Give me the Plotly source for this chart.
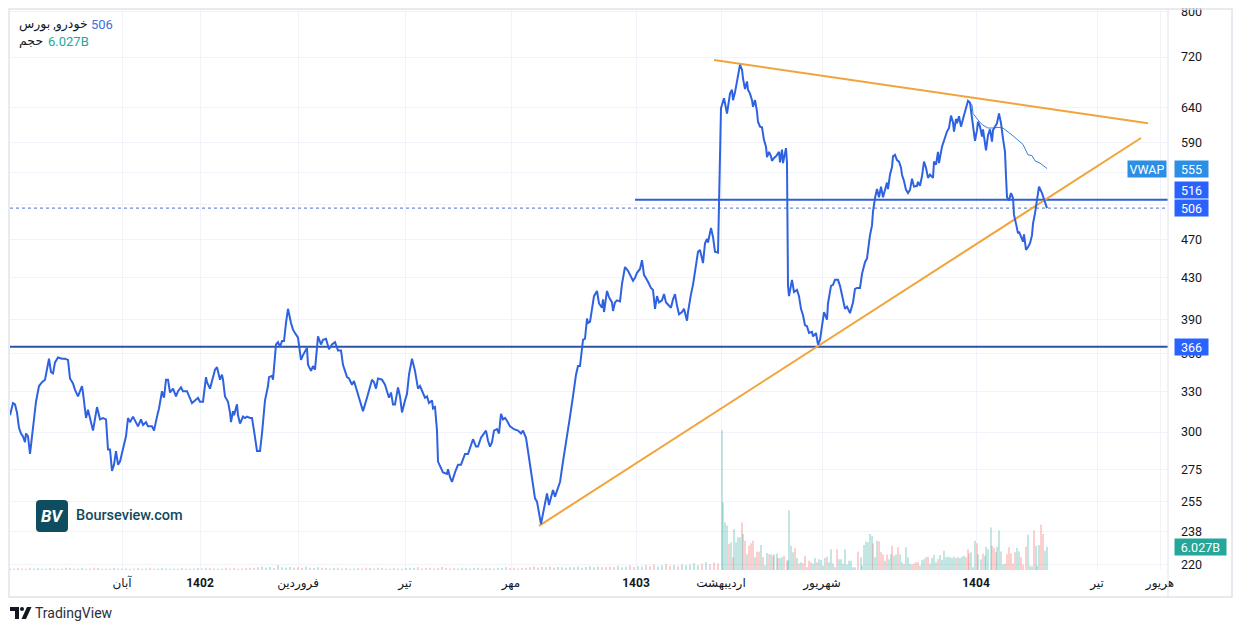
"""
khodro daily chart with trendlines, levels and volume
"""

import bisect
import math

import plotly.graph_objects as go

## sampled daily closes (session number -> price)
bar = [
    0, 3, 5, 7, 9, 11, 13, 15, 16, 18,
    20, 22, 23, 26, 29, 32, 35, 37, 39, 41,
    43, 45, 48, 52, 55, 58, 60, 63, 65, 68,
    72, 73, 76, 78, 80, 83, 87, 90, 93, 96,
    98, 100, 102, 104, 106, 108, 110, 113, 116, 118,
    120, 123, 126, 128, 131, 133, 136, 138, 142, 144,
    147, 149, 152, 154, 156, 158, 160, 163, 166, 168,
    171, 173, 177, 179, 182, 185, 188, 190, 193, 196,
    197, 200, 202, 205, 207, 210, 212, 213, 215, 218,
    220, 221, 223, 224, 227, 228, 230, 233, 235, 237,
    240, 242, 244, 247, 250, 252, 255, 258, 259, 262,
    263, 266, 268, 270, 272, 274, 276, 278, 281, 283,
    285, 288, 291, 293, 297, 298, 301, 303, 305, 308,
    311, 313, 316, 319, 322, 325, 328, 331, 333, 337,
    339, 342, 344, 347, 350, 353, 357, 362, 364, 366,
    368, 372, 375, 379, 381, 383, 385, 388, 390, 392,
    395, 397, 399, 402, 405, 408, 410, 413, 415, 417,
    419, 422, 423, 425, 427, 428, 430, 433, 437, 438,
    440, 442, 445, 448, 451, 453, 455, 458, 461, 463,
    466, 468, 471, 473, 476, 478, 480, 482, 484, 487,
    489, 491, 493, 495, 497, 500, 504, 508, 511, 513,
    516, 518, 522, 525, 527, 529, 531, 533, 535, 537,
    539, 542, 543, 545, 548, 550, 553, 557, 560, 563,
    566, 568, 570, 573, 575, 577, 578, 580, 583, 584,
    587, 589, 592, 593, 594, 597, 599, 602, 603, 605,
    607, 610, 612, 615, 618, 620, 623, 625, 627, 630,
    632, 634, 636, 638, 641, 643, 645, 647, 649, 652,
    654, 656, 658, 661, 663, 665, 667, 669, 672, 674,
    677, 678, 681, 683, 686, 688, 690, 692, 693, 695,
    697, 698, 701, 703, 705, 708, 711, 712, 714, 717,
    718, 720, 722, 723, 725, 727, 728, 730, 732, 733,
    735, 737, 738, 740, 742, 743, 745, 747, 748, 750,
    752, 754, 756, 757, 759, 761, 762, 764, 766, 767,
    769, 770, 772, 773, 775, 776, 777, 778, 779, 780,
    782, 784, 787, 789, 791, 793, 795, 797, 799, 802,
    803, 806, 808, 810, 812, 814, 817, 818, 821, 823,
    825, 828, 830, 833, 835, 837, 840, 843, 845, 847,
    850, 852, 855, 857, 858, 860, 862, 863, 865, 867,
    869, 871, 873, 875, 877, 878, 880, 882, 883, 885,
    887, 889, 891, 892, 894, 896, 898, 900, 902, 904,
    907, 908, 910, 912, 914, 916, 918, 920, 923, 924,
    926, 928, 929, 932, 934, 937, 939, 941, 943, 944,
    946, 947, 949, 951, 953, 955, 957, 958, 960, 962,
    963, 965, 967, 968, 970, 972, 973, 976, 978, 980,
    982, 983, 985, 987, 989, 991, 993, 995, 996, 997,
    999, 1001, 1003, 1004, 1006, 1008, 1009, 1011, 1013, 1014,
    1016, 1018, 1020, 1022, 1023, 1025, 1027, 1028, 1029, 1032,
    1034, 1036, 1037,
]
close = [
    312, 321, 320, 314, 303, 299, 297, 293, 299, 297,
    285, 297, 305, 322, 334, 337, 339, 349, 356, 345,
    344, 353, 357, 356, 356, 355, 340, 336, 331, 326,
    334, 329, 310, 316, 310, 301, 318, 309, 310, 309,
    288, 288, 274, 278, 287, 278, 280, 289, 297, 310,
    307, 311, 307, 304, 309, 305, 307, 304, 304, 301,
    311, 317, 330, 325, 339, 339, 329, 332, 326, 330,
    333, 330, 330, 326, 321, 323, 325, 322, 322, 341,
    337, 332, 339, 347, 349, 339, 343, 339, 326, 322,
    314, 307, 315, 312, 320, 312, 306, 311, 310, 311,
    310, 310, 301, 287, 287, 299, 323, 334, 341, 342,
    339, 368, 370, 366, 371, 371, 387, 400, 387, 381,
    378, 374, 355, 359, 365, 351, 346, 350, 347, 375,
    368, 372, 373, 364, 368, 370, 363, 363, 351, 341,
    340, 335, 338, 330, 322, 315, 325, 339, 337, 332,
    340, 339, 335, 325, 329, 320, 320, 333, 326, 314,
    323, 328, 343, 356, 346, 332, 334, 328, 325, 326,
    321, 323, 317, 318, 301, 280, 277, 273, 272, 275,
    270, 267, 273, 278, 278, 282, 285, 285, 292, 295,
    290, 290, 296, 298, 301, 294, 290, 293, 301, 302,
    299, 313, 309, 310, 308, 304, 302, 301, 299, 301,
    296, 287, 270, 257, 255, 249, 242, 248, 254, 260,
    253, 260, 262, 258, 264, 267, 280, 296, 311, 326,
    343, 350, 350, 372, 373, 391, 387, 388, 405, 412,
    417, 405, 401, 409, 397, 417, 411, 406, 398, 406,
    408, 407, 424, 441, 437, 433, 427, 430, 435, 439,
    448, 433, 430, 426, 420, 418, 400, 412, 406, 408,
    414, 406, 404, 401, 409, 414, 403, 395, 397, 400,
    389, 397, 414, 423, 443, 457, 459, 448, 445, 466,
    471, 467, 483, 473, 457, 456, 639, 644, 654, 631,
    641, 661, 667, 651, 663, 680, 690, 707, 699, 685,
    668, 680, 667, 661, 651, 641, 651, 634, 619, 612,
    611, 593, 584, 570, 577, 571, 565, 569, 571, 573,
    577, 563, 580, 562, 579, 582, 562, 422, 412, 418,
    428, 416, 418, 412, 400, 394, 385, 384, 378, 379,
    375, 378, 368, 372, 385, 397, 390, 405, 422, 423,
    428, 428, 422, 409, 400, 402, 396, 406, 419, 420,
    420, 434, 446, 450, 459, 475, 486, 502, 518, 529,
    519, 532, 519, 529, 537, 529, 547, 557, 571, 573,
    566, 564, 556, 547, 539, 528, 524, 528, 542, 532,
    533, 538, 533, 545, 564, 556, 543, 547, 543, 564,
    560, 577, 562, 584, 593, 605, 610, 628, 618, 605,
    623, 617, 627, 612, 623, 634, 646, 650, 647, 627,
    617, 592, 607, 619, 612, 598, 608, 579, 600, 608,
    591, 607, 612, 617, 631, 617, 595, 577, 545, 519,
    515, 524, 518, 498, 488, 477, 479, 473, 468, 476,
    459, 462, 466, 475, 488, 500, 519, 528, 532, 524,
    516, 508, 506,
]
assert len(bar) == len(close)

## anchored vwap from the top
vwap_bar = [958, 962, 963, 967, 970, 973, 978, 983, 988, 993,
            998, 1003, 1008, 1013, 1018, 1022, 1025, 1030, 1037]
vwap = [650, 644, 631, 623, 618, 614, 610, 610, 611, 610,
        605, 599, 593, 587, 573, 572, 565, 562, 555]

## drawn trendlines and levels
upper_bar = [704, 1138]
upper_px = [715, 617]
lower_bar = [529, 1131]
lower_px = [241, 596]
level_low = 366
level_high = 516
level_high_from = 625

## volume (billions) - small early bars, then the active period
early_vol_bar = list(range(0, 709, 4))
early_vol = [
    0.4, 0.3, 0.5, 0.4, 0.3, 0.6, 0.4, 0.5, 0.3, 0.4,
    0.5, 0.4, 0.3, 0.4, 0.6, 0.5, 0.3, 0.4, 0.5, 0.3,
    0.4, 0.6, 0.5, 0.3, 0.4, 0.3, 0.5, 0.4, 0.3, 0.4,
    0.3, 0.4, 0.5, 0.3, 0.4, 0.6, 0.3, 0.4, 0.5, 0.4,
    0.3, 0.4, 0.3, 0.5, 0.4, 0.3, 0.4, 0.5, 0.4, 0.6,
    0.5, 0.4, 0.3, 0.4, 0.6, 0.4, 0.5, 0.3, 0.4, 0.5,
    0.6, 0.5, 0.7, 0.9, 0.6, 0.8, 0.5, 1.3, 0.7, 0.6,
    0.8, 0.6, 0.7, 0.5, 0.9, 0.6, 0.5, 0.7, 0.6, 0.5,
    0.4, 0.5, 0.6, 0.4, 0.5, 0.3, 0.4, 0.5, 0.4, 0.6,
    0.5, 0.4, 0.6, 0.5, 0.3, 0.4, 0.5, 0.4, 0.3, 0.5,
    0.6, 0.5, 0.7, 0.4, 0.5, 0.6, 0.4, 0.5, 0.8, 0.5,
    0.4, 0.5, 0.4, 0.6, 0.5, 0.4, 0.5, 0.6, 0.4, 0.5,
    0.5, 0.4, 0.6, 0.5, 0.7, 0.5, 0.6, 0.4, 0.5, 0.6,
    0.7, 0.9, 0.6, 0.8, 0.7, 0.9, 0.6, 0.8, 0.7, 0.6,
    0.8, 0.7, 0.9, 0.6, 0.8, 1.0, 0.7, 0.9, 0.8, 0.7,
    0.9, 0.8, 1.1, 0.7, 0.9, 1.2, 0.8, 1.0, 0.9, 1.3,
    1.0, 1.4, 0.9, 1.2, 1.6, 1.1, 1.3, 1.0, 1.5, 1.2,
    1.4, 1.8, 1.2, 1.6, 2.0, 1.5, 1.9, 1.7,
]
late_vol_bar = [
    712, 713, 715, 717, 719, 721, 723, 724, 726, 728,
    730, 732, 733, 735, 737, 739, 741, 743, 745, 747,
    749, 751, 753, 755, 757, 759, 761, 763, 764, 767,
    768, 770, 772, 774, 777, 778, 779, 781, 783, 785,
    787, 789, 791, 793, 795, 797, 799, 801, 803, 805,
    807, 809, 811, 813, 815, 817, 819, 821, 823, 825,
    827, 829, 831, 833, 835, 837, 839, 841, 843, 845,
    848, 851, 852, 854, 856, 858, 860, 862, 863, 865,
    867, 869, 871, 873, 875, 877, 879, 881, 882, 884,
    886, 888, 890, 892, 894, 896, 898, 900, 902, 904,
    906, 908, 910, 912, 914, 916, 918, 920, 922, 924,
    926, 928, 930, 932, 934, 936, 938, 940, 942, 944,
    946, 948, 950, 952, 954, 956, 958, 959, 961, 963,
    965, 967, 968, 971, 973, 975, 976, 978, 981, 982,
    984, 986, 987, 989, 991, 993, 995, 997, 999, 1001,
    1003, 1005, 1007, 1009, 1011, 1013, 1016, 1018, 1020, 1022,
    1024, 1026, 1027, 1029, 1031, 1033, 1035, 1037,
]
late_vol = [
    36.2, 17.5, 12.3, 11.5, 6.7, 7.2, 3.3, 10.6, 7.2, 8.5,
    8.5, 12.3, 9.3, 7.6, 4.1, 6.3, 6.9, 7.6, 3.3, 4.7,
    4.7, 6.5, 3.3, 1.2, 4.4, 4.1, 4.1, 3.7, 4.1, 4.3,
    3.1, 3.1, 3.3, 3.7, 2.4, 2.6, 15.5, 6.3, 4.6, 5.6,
    3.1, 1.7, 2.0, 1.7, 3.7, 0.7, 2.4, 2.0, 1.6, 3.1,
    2.0, 2.8, 2.6, 1.1, 3.1, 3.4, 2.0, 5.4, 1.7, 0.7,
    5.4, 2.8, 2.8, 1.6, 5.4, 1.4, 2.4, 2.4, 0.7, 0.7,
    4.7, 3.3, 1.1, 6.5, 7.4, 7.2, 9.3, 8.9, 6.9, 3.3,
    7.6, 7.4, 4.6, 4.0, 2.4, 4.0, 2.8, 4.1, 6.3, 3.7,
    4.0, 5.9, 4.1, 2.0, 1.6, 5.9, 3.3, 1.6, 1.4, 1.7,
    2.0, 2.0, 1.1, 2.6, 2.8, 3.3, 3.4, 1.6, 3.1, 3.9,
    2.0, 2.8, 3.9, 2.6, 5.0, 3.3, 3.4, 3.3, 3.1, 3.4,
    3.1, 3.3, 3.1, 3.4, 3.7, 3.3, 5.4, 4.3, 4.6, 0.7,
    7.6, 6.9, 4.1, 2.8, 4.3, 3.7, 6.0, 5.4, 11.0, 6.3,
    5.7, 4.6, 6.0, 10.2, 4.8, 1.4, 1.6, 4.1, 5.9, 4.3,
    1.7, 4.6, 5.7, 4.8, 3.3, 1.4, 6.0, 9.1, 1.1, 0.9,
    10.2, 6.3, 1.1, 6.5, 11.7, 9.3, 5.0, 6.027,
]
late_vol_dir = (
    "uuuududuuu" "udududddud" "duduududuu" "duudduuuud"
    "ududdddduu" "duuuuduuuu" "duuuuuuuuu" "duuuuuuudu"
    "uddduduudu" "uduuduuudd" "dduuudduuu" "uduuuuuuuu"
    "duuuuddduu" "uduuduuuud" "dduuuuuddd" "dduuddduuu"
    "duuudduu"
)
assert len(early_vol_bar) == len(early_vol)
assert len(late_vol_bar) == len(late_vol) == len(late_vol_dir)

## axis labels (510 / 550 sit under the price tags, so only their grid shows)
time_tick_bar = [112, 190, 288, 395, 501, 626, 711, 812, 966, 1087, 1150]
time_tick_text = ["آبان", "<b>1402</b>", "فروردین", "تیر", "مهر", "<b>1403</b>",
                  "اردیبهشت", "شهریور", "<b>1404</b>", "تیر", "هریور"]
price_ticks = [220, 238, 255, 275, 300, 330, 360, 390, 430, 470, 510, 550, 590, 640, 720, 800]
hidden_ticks = [510, 550]

UP = "rgba(38,166,154,0.5)"
DOWN = "rgba(239,83,80,0.5)"
PRICE_BLUE = "#2E62E0"
ORANGE = "#F2A33A"
FONT = "Roboto, DejaVu Sans, sans-serif"

## the page body adds an 8px offset, so the figure is 8px smaller and shifted back.
## pixel helpers below use screen pixels; the plot box is 10..1168 x 10..570 on screen
def px_x(px):
    return (px - 10) / 1158


def px_y(py):
    return (570 - py) / 560


def early_dir(s):
    i = bisect.bisect_right(bar, s) - 1
    if i <= 0:
        return "u"
    return "u" if close[i] >= close[i - 1] else "d"


early_colors = [UP if early_dir(s) == "u" else DOWN for s in early_vol_bar]
late_colors = [UP if d == "u" else DOWN for d in late_vol_dir]

fig = go.Figure()
fig.add_bar(x=early_vol_bar + late_vol_bar, y=early_vol + late_vol, yaxis="y2",
            marker=dict(color=early_colors + late_colors, line_width=0), width=1.1)
fig.add_scatter(x=[0, 1158], y=[level_low, level_low], mode="lines",
                line=dict(color="#2B55A3", width=2))
fig.add_scatter(x=[level_high_from, 1158], y=[level_high, level_high], mode="lines",
                line=dict(color="#2F5FD3", width=2))
fig.add_scatter(x=[0, 1158], y=[close[-1], close[-1]], mode="lines",
                line=dict(color="#4B6FCB", width=1, dash="dot"))
fig.add_scatter(x=upper_bar, y=upper_px, mode="lines", line=dict(color=ORANGE, width=2))
fig.add_scatter(x=lower_bar, y=lower_px, mode="lines", line=dict(color=ORANGE, width=2))
fig.add_scatter(x=vwap_bar, y=vwap, mode="lines", line=dict(color="#3A80D6", width=1))
fig.add_scatter(x=bar, y=close, mode="lines", line=dict(color=PRICE_BLUE, width=2))

grid = "#F0F3FA"
fig.update_layout(
    width=1234,
    height=625,
    margin=dict(l=2, r=74, t=2, b=63),
    paper_bgcolor="white",
    plot_bgcolor="white",
    showlegend=False,
    font=dict(family=FONT, color="#131722", size=12),
    xaxis=dict(range=[0, 1158], tickvals=time_tick_bar, ticktext=time_tick_text,
               showgrid=True, gridcolor=grid, zeroline=False, showline=False, automargin=False,
               ticks="", ticklabelstandoff=4, tickfont=dict(size=12, color="#131722")),
    yaxis=dict(type="log", range=[math.log10(217.4), math.log10(803.5)], side="right",
               tickvals=price_ticks,
               ticktext=["" if v in hidden_ticks else str(v) for v in price_ticks],
               showgrid=True, gridcolor=grid, zeroline=False, showline=False, automargin=False,
               ticklabeloverflow="allow",
               ticks="", ticklabelstandoff=12, tickfont=dict(size=12.5, color="#131722")),
    yaxis2=dict(overlaying="y", range=[0, 145], visible=False),
)

## frame, price-scale separator
fig.add_shape(type="rect", xref="paper", yref="paper",
              x0=px_x(9), x1=px_x(1232), y0=px_y(597), y1=px_y(9),
              line=dict(color="#E0E3EB", width=1.5))
fig.add_shape(type="line", xref="paper", yref="paper",
              x0=1, x1=1, y0=px_y(597), y1=px_y(9),
              line=dict(color="#E0E3EB", width=1))


def rounded_rect(x0, y0, x1, y1, r):
    pts = [("M", x0 + r, y0), ("L", x1 - r, y0), ("Q", x1, y0, x1, y0 + r),
           ("L", x1, y1 - r), ("Q", x1, y1, x1 - r, y1), ("L", x0 + r, y1),
           ("Q", x0, y1, x0, y1 - r), ("L", x0, y0 + r), ("Q", x0, y0, x0 + r, y0)]
    out = ""
    for p in pts:
        if p[0] == "Q":
            out += f"Q{px_x(p[1])},{px_y(p[2])} {px_x(p[3])},{px_y(p[4])} "
        else:
            out += f"{p[0]}{px_x(p[1])},{px_y(p[2])} "
    return out + "Z"


## bourseview watermark
fig.add_shape(type="path", xref="paper", yref="paper", path=rounded_rect(36, 500, 68, 532, 4),
              fillcolor="#0E4C5F", line_width=0)
fig.add_annotation(xref="paper", yref="paper", x=px_x(52), y=px_y(516), xanchor="center",
                   yanchor="middle", text="<b><i>BV</i></b>", showarrow=False,
                   font=dict(color="white", size=17, family=FONT))
fig.add_annotation(xref="paper", yref="paper", x=px_x(74), y=px_y(515), xanchor="left",
                   yanchor="middle", text="Bourseview.com", showarrow=False,
                   font=dict(color="#124A5E", size=14.5, family=FONT, weight=500))

## tradingview mark
fig.add_shape(type="path", xref="paper", yref="paper", fillcolor="#131722", line_width=0,
              path=(f"M{px_x(10)},{px_y(607)} L{px_x(19)},{px_y(607)} L{px_x(19)},{px_y(619)} "
                    f"L{px_x(15)},{px_y(619)} L{px_x(15)},{px_y(611)} L{px_x(10)},{px_y(611)} Z"))
fig.add_shape(type="circle", xref="paper", yref="paper", fillcolor="#131722", line_width=0,
              x0=px_x(20), x1=px_x(24), y0=px_y(611), y1=px_y(607))
fig.add_shape(type="path", xref="paper", yref="paper", fillcolor="#131722", line_width=0,
              path=(f"M{px_x(27)},{px_y(607)} L{px_x(31.5)},{px_y(607)} L{px_x(26)},{px_y(619)} "
                    f"L{px_x(21.5)},{px_y(619)} Z"))
fig.add_annotation(xref="paper", yref="paper", x=px_x(33), y=px_y(613), xanchor="left",
                   yanchor="middle", text="TradingView", showarrow=False,
                   font=dict(color="#2A2E39", size=14, family=FONT))

## legend text top-left
fig.add_annotation(xref="paper", yref="paper", x=px_x(17), y=px_y(24), xanchor="left",
                   yanchor="middle", text="خودرو, بورس", showarrow=False,
                   font=dict(size=12.5, color="#131722"))
fig.add_annotation(xref="paper", yref="paper", x=px_x(89), y=px_y(24), xanchor="left",
                   yanchor="middle", text=str(close[-1]), showarrow=False,
                   font=dict(size=13, color="#3F6FDC"))
fig.add_annotation(xref="paper", yref="paper", x=px_x(17), y=px_y(41), xanchor="left",
                   yanchor="middle", text="حجم", showarrow=False,
                   font=dict(size=12.5, color="#131722"))
fig.add_annotation(xref="paper", yref="paper", x=px_x(46), y=px_y(41), xanchor="left",
                   yanchor="middle", text="6.027B", showarrow=False,
                   font=dict(size=13, color="#26A69A"))


## price-scale tags
def tag(text, y, color, yref="y", x=px_x(1174), width=29):
    fig.add_annotation(xref="paper", yref=yref, x=x, y=y, xanchor="left", yanchor="middle",
                       text=text, showarrow=False, bgcolor=color, width=width, height=12,
                       borderpad=2, align="center",
                       font=dict(color="white", size=12.5, family=FONT))


tag("VWAP", math.log10(vwap[-1]), "#2C8FE5", x=px_x(1127), width=34)
tag(str(vwap[-1]), math.log10(vwap[-1]), "#2C8FE5")
tag(str(level_high), px_y(190), "#2962FF", yref="paper")
tag(str(close[-1]), math.log10(close[-1]), "#2962FF")
tag(str(level_low), math.log10(level_low), "#2962FF")
tag("6.027B", late_vol[-1], "#26A69A", yref="y2", width=47)

fig.write_html("out.html")
